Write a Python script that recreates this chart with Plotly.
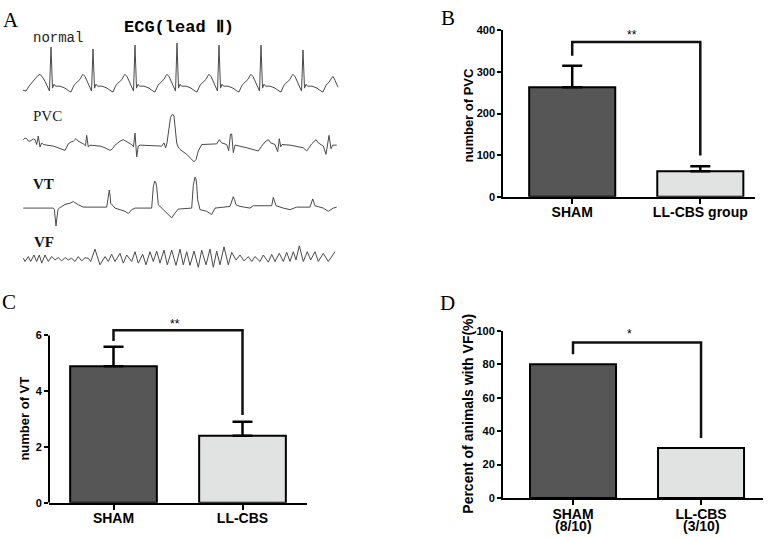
import plotly.graph_objects as go

# ---------------- data ----------------
groups_b = ["SHAM", "LL-CBS group"]
pvc_mean = [263, 61]
pvc_err = [52, 12]
pvc_bracket = [339, 372, 372, 99]

groups_c = ["SHAM", "LL-CBS"]
vt_mean = [4.9, 2.4]
vt_err = [0.7, 0.5]
vt_bracket = [5.8, 6.19, 6.19, 3.15]

groups_d = ["SHAM", "LL-CBS"]
groups_d_n = ["(8/10)", "(3/10)"]
vf_pct = [80, 30]
vf_bracket = [86, 93, 93, 36]

# ECG traces (panel A) as (x, y) in panel units
ecg_normal = [
    (23, 86), (26, 87), (29, 82), (32, 78), (35, 75), (38, 71), (40, 70), (42, 72), (45, 77), (47, 81),
    (49.5, 87), (51, 42), (52.5, 84), (54, 80), (55.5, 82), (60, 82), (65, 84), (69, 87),
    (71, 88), (74, 81), (77, 78), (80, 75), (82, 71), (83, 70), (85, 72), (87, 77), (89, 81),
    (91.5, 87), (93, 44), (94.5, 84), (96, 80), (97.5, 82), (102, 82), (107, 84), (111, 87),
    (113, 88), (116, 81), (119, 78), (122, 75), (124, 71), (125, 70), (127, 72), (129, 77), (131, 81),
    (133.5, 87), (135, 40), (136.5, 84), (138, 80), (139.5, 82), (144, 82), (149, 84), (153, 87),
    (155, 88), (158, 81), (161, 78), (164, 75), (166, 71), (167, 70), (169, 72), (171, 77), (173, 81),
    (175.5, 87), (177, 38), (178.5, 84), (180, 80), (181.5, 82), (186, 82), (191, 84), (195, 87),
    (197, 88), (200, 81), (203, 78), (206, 75), (208, 71), (209, 70), (211, 72), (213, 77), (215, 81),
    (217.5, 87), (219, 40), (220.5, 84), (222, 80), (223.5, 82), (228, 82), (233, 84), (237, 87),
    (239, 88), (242, 81), (245, 78), (248, 75), (250, 71), (251, 70), (253, 72), (255, 77), (257, 81),
    (259.5, 87), (261, 40), (262.5, 84), (264, 80), (265.5, 82), (270, 82), (275, 84), (279, 87),
    (281, 88), (284, 81), (287, 78), (290, 75), (292, 71), (293, 70), (295, 72), (297, 77), (299, 81),
    (301.5, 87), (303, 45), (304.5, 84), (306, 80), (307.5, 82), (312, 82), (317, 84), (321, 87),
    (323, 88), (326, 81), (329, 78), (332, 73), (333, 72), (335, 76), (337, 81), (338, 83),
]
ecg_pvc = [
    (23.3, 136.7), (25, 135), (26.7, 135.7), (28.3, 138), (30, 138.3), (31.7, 137), (33.3, 136),
    (35, 136.7), (36.7, 141.7), (38.3, 133), (40, 144.3), (41.7, 140), (43.3, 141.7), (48, 142.5),
    (53.3, 143.3), (58, 145), (61.7, 146.7), (65, 147.7), (68.3, 141), (71, 139), (73.3, 138.3),
    (76, 135.7), (78, 138), (80, 139), (83.3, 141), (85.5, 143), (86.7, 132.3), (88.3, 144.3),
    (90, 142.3), (95, 142.8), (100, 143.3), (105, 145), (110, 147.7), (112.5, 146), (115, 142.3),
    (120, 138.3), (123.3, 136.7), (127, 139), (131.7, 141.7), (133.5, 144), (135, 130), (136.7, 154.3),
    (138.3, 143.3), (140, 142.3), (150, 142.8), (161.7, 143.3), (164, 140), (165.7, 145), (167, 140),
    (169, 125), (170.5, 114), (171.7, 111.7), (173, 111), (174, 113), (175, 125), (176.7, 140),
    (178, 144), (180, 146.7), (186.7, 151.7), (190, 155), (194, 159.3), (196, 157), (198.3, 148.3),
    (201.7, 141.7), (210, 141.3), (216.7, 141), (219.3, 136.7), (221.7, 140), (226.7, 141.7),
    (228.7, 148), (230.5, 131), (231.7, 131), (233.3, 150), (235, 142.3), (246.7, 145), (258.3, 148.3),
    (261.7, 143.3), (265, 139), (268.3, 136.7), (270.7, 140), (275, 141.7), (277.7, 149), (279.3, 135.7),
    (280.7, 144), (282, 141.7), (290, 142.3), (303.3, 145), (306.7, 148.3), (311.7, 141), (316, 136.7),
    (318.3, 140), (323.3, 143.3), (326, 151.7), (329, 132.3), (331, 146), (332.7, 142.3), (336.7, 142.3),
]
ecg_vt = [
    (23.3, 206.7), (53.3, 206.7), (54.3, 208), (55.3, 218), (56, 225), (57, 216), (58, 208),
    (59.3, 206.7), (61.7, 205), (65, 203), (70, 201.7), (73.3, 200), (78.3, 203.3), (83.3, 205.7),
    (106.7, 205.7), (108.5, 195), (109.3, 188.3), (110.2, 195), (110.7, 201.7), (115, 206.7),
    (120, 208), (125, 210), (128.3, 212.3), (131.7, 208.3), (135, 206.7), (151.7, 206.7),
    (153.3, 185), (154.7, 179), (156, 181), (156.7, 185), (158.3, 203.3), (163.3, 208.3),
    (168.3, 213.3), (171.7, 216.7), (175, 211.7), (178.3, 207.7), (191.7, 206.7), (193.3, 183.3),
    (195, 175), (196, 177), (196.7, 183.3), (197.7, 198.3), (200, 208.3), (206.7, 210),
    (211.7, 213.3), (215, 206.7), (230, 205), (232, 198), (233.3, 195), (234.5, 198), (236, 203.3),
    (240, 205), (250, 206.7), (253.3, 204.3), (271.7, 204.3), (273.3, 195.7), (274.5, 199),
    (276, 204.3), (283.3, 206.7), (290, 208.3), (296.7, 205.7), (310, 205.7), (312.7, 197.3),
    (313.7, 200), (315, 204.3), (323.3, 206.7), (328.3, 210), (333.3, 206.7), (336.7, 205.7),
]
ecg_vf = [
    (23.3, 258), (25, 261.3), (28.3, 256.3), (30.7, 261.3), (34, 254.7), (36.7, 261.3), (39.3, 254.7),
    (41.7, 263), (45, 254.7), (48.3, 261.3), (51.7, 256.3), (55, 259.7), (58.3, 257.3), (61.7, 260.7),
    (65, 257.3), (68.3, 259.7), (71.7, 258), (75, 261.3), (78.3, 256.3), (81.7, 260.7), (85, 257.5),
    (88.3, 258), (90.7, 261.3), (95, 248.7), (100, 264.7), (105, 256.3), (108.3, 261.3), (111.7, 254),
    (115, 261.3), (120, 253), (123.3, 263), (126.7, 254.7), (131.7, 261.3), (135, 251.3), (138.3, 263),
    (142.7, 254), (146, 264.7), (150, 251.3), (153.3, 261.3), (156.7, 250.7), (160, 263), (164, 249.7),
    (167.3, 264.7), (171.7, 249.7), (176, 265.3), (180, 248.7), (183.3, 264.7), (186.7, 251.3),
    (190, 265.3), (194, 250.7), (198.3, 267.3), (201.7, 249.7), (206, 264.7), (210, 248.7),
    (213.3, 267.3), (216.7, 250.7), (220, 264.7), (224, 246.3), (228.3, 264.7), (231.7, 252),
    (236, 259.7), (240, 254.7), (244, 260.7), (248.3, 256.3), (251.7, 261.3), (255, 256.3),
    (260, 261.3), (263.3, 254.7), (268.3, 262), (271.7, 254), (275, 261.3), (279.3, 253),
    (283.3, 261.3), (286.7, 252), (290, 261.3), (293.3, 251.3), (296, 259.7), (299.3, 245.3),
    (303.3, 261.3), (307.3, 251.3), (310.7, 259.7), (315, 251.3), (318.3, 261.3), (323.3, 253),
    (328.3, 261.3), (333.3, 253), (335, 251.3),
]

# ---------------- styles ----------------
W, H = 769, 538
DARK = "#575656"
LIGHT = "#e1e3e2"
SANS = "Liberation Sans, Arial"
SERIF = "Liberation Serif, Times New Roman"
YTICK = dict(family=SANS, size=11, color="black", weight="bold")
XTICK = dict(family=SANS, size=14, color="black", weight="bold")

fig = go.Figure()

# ---- Panel A: ECG traces ----
for trace in (ecg_normal, ecg_pvc, ecg_vt, ecg_vf):
    fig.add_trace(go.Scatter(
        x=[p[0] for p in trace], y=[p[1] for p in trace],
        mode="lines", line=dict(color="#4a4a4a", width=1),
        xaxis="x", yaxis="y", hoverinfo="skip", showlegend=False))

# ---- bar panels ----
def add_bar_panel(ax, n, vals, errs, bracket):
    xa = "x" + ax
    ya = "y" + ax
    fig.add_trace(go.Bar(
        x=list(range(n)), y=vals, width=0.672,
        marker=dict(color=[DARK, LIGHT], line=dict(color="black", width=2)),
        error_y=(dict(type="data", array=errs, arrayminus=[0] * len(errs), symmetric=False,
                      color="black", thickness=2.5, width=10) if errs else None),
        xaxis=xa, yaxis=ya, hoverinfo="skip", showlegend=False))
    fig.add_trace(go.Scatter(
        x=[0, 0, 1, 1], y=bracket, mode="lines",
        line=dict(color="#111111", width=2.5),
        xaxis=xa, yaxis=ya, hoverinfo="skip", showlegend=False))

add_bar_panel("2", len(groups_b), pvc_mean, pvc_err, pvc_bracket)
add_bar_panel("3", len(groups_c), vt_mean, vt_err, vt_bracket)
add_bar_panel("4", len(groups_d), vf_pct, None, vf_bracket)

def px_x(a, b):
    return [a / W, b / W]

def px_y(top, bottom):
    return [1 - bottom / H, 1 - top / H]

xcommon = dict(showline=True, linecolor="black", linewidth=2, ticks="outside", ticklen=5,
               tickwidth=2, tickcolor="black", showgrid=False, zeroline=False,
               tickfont=XTICK, tickvals=[0, 1], fixedrange=True, ticklabelstandoff=-3)
ycommon = dict(showline=True, linecolor="black", linewidth=2, ticks="outside", ticklen=4,
               tickwidth=2, tickcolor="black", showgrid=False, zeroline=False,
               tickfont=YTICK, fixedrange=True)

fig.update_layout(
    width=W, height=H, margin=dict(l=0, r=0, t=0, b=0),
    paper_bgcolor="white", plot_bgcolor="rgba(0,0,0,0)",
    xaxis=dict(domain=px_x(0, 380), range=[0, 380], visible=False, fixedrange=True),
    yaxis=dict(domain=px_y(0, 280), range=[280, 0], visible=False, fixedrange=True),
    xaxis2=dict(xcommon, domain=px_x(503.3, 755), range=[-0.538, 1.427], anchor="y2",
                ticktext=groups_b),
    yaxis2=dict(ycommon, domain=px_y(25, 195), range=[0, 400], anchor="x2",
                tickvals=[0, 100, 200, 300, 400]),
    xaxis3=dict(xcommon, domain=px_x(49, 307), range=[-0.5, 1.5], anchor="y3",
                ticktext=groups_c),
    yaxis3=dict(ycommon, domain=px_y(328.45, 508), range=[0, 6.3], anchor="x3",
                tickvals=[0, 2, 4, 6], showline=False),
    xaxis4=dict(xcommon, domain=px_x(503, 763), range=[-0.547, 1.484], anchor="y4",
                ticktext=groups_d),
    yaxis4=dict(ycommon, domain=px_y(332.3, 503.3), range=[0, 100], anchor="x4",
                tickvals=[0, 20, 40, 60, 80, 100]),
)

# y axis line of panel C, only up to the top tick
fig.add_shape(type="line", xref="x3 domain", yref="y3", x0=0, x1=0, y0=0, y1=6,
              line=dict(color="black", width=2))

ann = []
# panel letters
for letter, x, y in (("A", 11, 14), ("B", 448, 12), ("C", 9, 303), ("D", 447, 304)):
    ann.append(dict(text=letter, x=x / W, y=1 - y / H, xref="paper", yref="paper",
                    showarrow=False, xanchor="center", yanchor="middle",
                    font=dict(family=SERIF, size=21, color="black")))
# panel A labels
ann.append(dict(text="ECG(lead Ⅱ)", x=179, y=22, xref="x", yref="y", showarrow=False,
                font=dict(family="Liberation Mono", size=17, color="black", weight="bold")))
ann.append(dict(text="normal", x=57.5, y=33, xref="x", yref="y", showarrow=False,
                font=dict(family="Liberation Mono", size=14, color="#222")))
ann.append(dict(text="PVC", x=47, y=113, xref="x", yref="y", showarrow=False,
                font=dict(family=SERIF, size=15, color="#222")))
ann.append(dict(text="VT", x=43.5, y=181.7, xref="x", yref="y", showarrow=False,
                font=dict(family=SERIF, size=15, color="#111", weight="bold")))
ann.append(dict(text="VF", x=44, y=241, xref="x", yref="y", showarrow=False,
                font=dict(family=SERIF, size=15, color="#111", weight="bold")))
# axis titles
for text, x, y, size in (("number of PVC", 469, 112, 13),
                         ("number of VT", 25, 422, 13),
                         ("Percent of animals with VF(%)", 468, 417, 14)):
    ann.append(dict(text=text, x=x / W, y=1 - y / H, xref="paper", yref="paper",
                    showarrow=False, textangle=-90, xanchor="center", yanchor="middle",
                    font=dict(family=SANS, size=size, color="black", weight="bold")))
# significance stars, placed just above each bracket
for text, xa, ya, x, y, shift in (("**", "x2", "y2", 0.47, pvc_bracket[1], 7),
                                  ("**", "x3", "y3", 0.477, vt_bracket[1], 6),
                                  ("*", "x4", "y4", 0.445, vf_bracket[1], 9)):
    ann.append(dict(text=text, x=x, y=y, xref=xa, yref=ya, showarrow=False, yshift=shift,
                    yanchor="middle", font=dict(family=SANS, size=12, color="black")))
# second line of panel D category labels
for i, t in enumerate(groups_d_n):
    ann.append(dict(text=t, x=i, y=1 - 531.5 / H, xref="x4", yref="paper", showarrow=False,
                    yanchor="middle", font=XTICK))
fig.update_layout(annotations=ann)

fig.write_html("out.html", config={"displayModeBar": False},
               post_script="document.body.style.margin='0px';")
